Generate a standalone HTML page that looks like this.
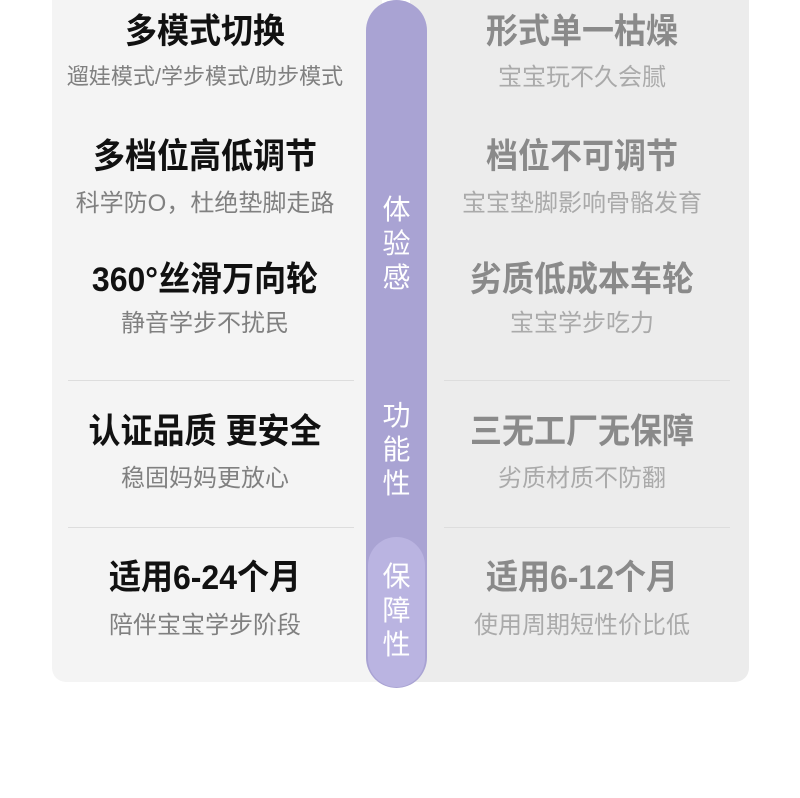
<!DOCTYPE html>
<html><head><meta charset="utf-8"><style>
body{margin:0;width:800px;height:798px;background:#fff;position:relative;overflow:hidden;font-family:"Liberation Sans","Noto Sans CJK SC",sans-serif}
.p{position:absolute}
.t{position:absolute;width:320px;text-align:center;line-height:1;white-space:nowrap}
.h{font-size:32px;font-weight:bold;transform:scaleY(1.08)}
.s{font-size:24px}
.L{left:45px}.R{left:422px}
.L.h{color:#111}.L.s{color:#808080}
.R.h{color:#8a8a8a}.R.s{color:#aaa}
.ln{position:absolute;height:1px;background:#ddd}
.v{position:absolute;left:366px;width:61px;text-align:center;color:#fff;font-size:28px;line-height:34px}
</style></head><body>
<div class="p" style="left:52px;top:0;width:330px;height:682px;background:#f4f4f4;border-radius:0 0 0 14px"></div>
<div class="p" style="left:410px;top:0;width:339px;height:682px;background:#ececec;border-radius:0 0 14px 0"></div>
<div class="p" style="left:366px;top:0;width:61px;height:688px;background:#a9a3d3;border-radius:31px"></div>
<div class="p" style="left:368px;top:537px;width:57px;height:150px;background:#bab4e1;border-radius:29px"></div>
<div class="ln" style="left:68px;top:380px;width:286px"></div>
<div class="ln" style="left:68px;top:527px;width:286px"></div>
<div class="ln" style="left:444px;top:380px;width:286px"></div>
<div class="ln" style="left:444px;top:527px;width:286px"></div>

<div class="t L h" style="top:15px">多模式切换</div>
<div class="t L s" style="top:66px;font-size:22px">遛娃模式/学步模式/助步模式</div>
<div class="t L h" style="top:140px">多档位高低调节</div>
<div class="t L s" style="top:192px">科学防O，杜绝垫脚走路</div>
<div class="t L h" style="top:263px">360°丝滑万向轮</div>
<div class="t L s" style="top:312px">静音学步不扰民</div>
<div class="t L h" style="top:415px">认证品质 更安全</div>
<div class="t L s" style="top:467px">稳固妈妈更放心</div>
<div class="t L h" style="top:561px">适用6-24个月</div>
<div class="t L s" style="top:614px">陪伴宝宝学步阶段</div>

<div class="t R h" style="top:15px">形式单一枯燥</div>
<div class="t R s" style="top:66px">宝宝玩不久会腻</div>
<div class="t R h" style="top:140px">档位不可调节</div>
<div class="t R s" style="top:192px">宝宝垫脚影响骨骼发育</div>
<div class="t R h" style="top:263px">劣质低成本车轮</div>
<div class="t R s" style="top:312px">宝宝学步吃力</div>
<div class="t R h" style="top:415px">三无工厂无保障</div>
<div class="t R s" style="top:467px">劣质材质不防翻</div>
<div class="t R h" style="top:561px">适用6-12个月</div>
<div class="t R s" style="top:614px">使用周期短性价比低</div>

<div class="v" style="top:193px">体<br>验<br>感</div>
<div class="v" style="top:399px">功<br>能<br>性</div>
<div class="v" style="top:560px">保<br>障<br>性</div>
</body></html>
